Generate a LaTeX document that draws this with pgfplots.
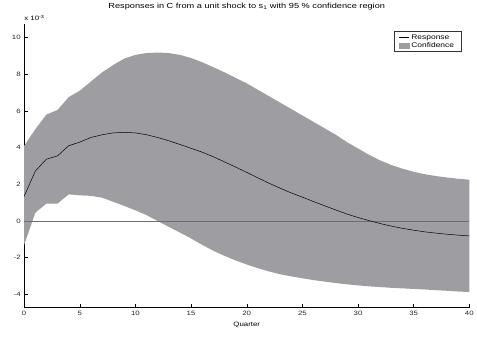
\documentclass[border=0pt]{standalone}
\usepackage{pgfplots}
\pgfplotsset{compat=1.18}
\usepackage{fontspec}
\setmainfont[FakeStretch=1.25]{Liberation Sans}
\definecolor{bandgray}{RGB}{158,157,162}
\definecolor{zerogray}{RGB}{110,110,112}
\begin{document}
\begin{tikzpicture}
\begin{axis}[
  at={(0pt,0pt)}, anchor=south west,
  scale only axis, width=447.7pt, height=285pt,
  xmin=0, xmax=40, ymin=-4.72, ymax=10.72,
  xtick={0,5,...,40}, ytick={-4,-2,0,2,4,6,8,10},
  axis x line*=bottom, axis y line*=left,
  axis line style={black, line width=0.6pt},
  tick align=inside, major tick length=3.5pt,
  tick style={black, line width=0.5pt},
  every tick label/.style={font=\fontsize{6.3}{7}\selectfont, text=black!85},
  /pgf/number format/assume math mode=true,
  xlabel={Quarter},
  xlabel style={font=\fontsize{6.3}{7}\selectfont, at={(axis description cs:0.5,0)}, anchor=base, yshift=-19pt},
  title={Responses in C from a unit shock to s\textsubscript{1} with 95 \% confidence region},
  title style={font=\fontsize{7.4}{9}\selectfont, at={(axis description cs:0.5,1)}, anchor=base, yshift=9.7pt},
  legend style={at={(rel axis cs:0.982,0.975)}, anchor=north east,
    font=\fontsize{6.8}{7.5}\selectfont, draw=black!80, line width=0.5pt,
    inner xsep=5pt, inner ysep=1pt, row sep=-2.5pt, cells={anchor=west}},
  legend cell align=left,
  legend image code/.code={\draw[#1] (2pt,0pt) -- (12pt,0pt);},
  clip mode=individual,
]
% confidence band: upper bound forward, lower bound backward
\addplot[fill=bandgray, draw=none, forget plot] coordinates {
(0,4.1) (1,5.0) (2,5.8) (3,6.05) (4,6.75) (5,7.1) (6,7.6) (7,8.1) (8,8.5) (9,8.85)
(10,9.05) (11,9.15) (12,9.18) (13,9.15) (14,9.05) (15,8.88) (16,8.65) (17,8.38) (18,8.1) (19,7.8)
(20,7.5) (21,7.15) (22,6.8) (23,6.45) (24,6.1) (25,5.75) (26,5.4) (27,5.05) (28,4.7) (29,4.3)
(30,3.95) (31,3.6) (32,3.3) (33,3.05) (34,2.85) (35,2.68) (36,2.55) (37,2.45) (38,2.37) (39,2.3) (40,2.25)
(40,-3.87) (39,-3.84) (38,-3.8) (37,-3.77) (36,-3.73) (35,-3.7) (34,-3.67) (33,-3.64) (32,-3.6) (31,-3.56)
(30,-3.51) (29,-3.45) (28,-3.38) (27,-3.3) (26,-3.22) (25,-3.12) (24,-3.02) (23,-2.9) (22,-2.75) (21,-2.57)
(20,-2.37) (19,-2.15) (18,-1.9) (17,-1.62) (16,-1.3) (15,-0.95) (14,-0.63) (13,-0.32) (12,0.0) (11,0.32)
(10,0.58) (9,0.82) (8,1.05) (7,1.27) (6,1.37) (5,1.4) (4,1.45) (3,0.95) (2,0.95) (1,0.45) (0,-1.3)
};
% zero line
\addplot[zerogray, line width=0.9pt, forget plot] coordinates {(0,0) (40,0)};
% response
\addplot[black, line width=0.5pt] coordinates {
(0,1.35) (1,2.72) (2,3.37) (3,3.55) (4,4.1) (5,4.3) (6,4.55) (7,4.7) (8,4.8) (9,4.83)
(10,4.8) (11,4.7) (12,4.55) (13,4.37) (14,4.17) (15,3.96) (16,3.75) (17,3.5) (18,3.22) (19,2.94)
(20,2.65) (21,2.35) (22,2.06) (23,1.79) (24,1.53) (25,1.3) (26,1.06) (27,0.83) (28,0.6) (29,0.38)
(30,0.19) (31,0.02) (32,-0.14) (33,-0.28) (34,-0.4) (35,-0.5) (36,-0.59) (37,-0.66) (38,-0.72) (39,-0.77) (40,-0.81)
};
\addlegendentry{Response}
\addlegendimage{legend image code/.code={\fill[bandgray] (2pt,-2.5pt) rectangle (12pt,2.5pt);}}
\addlegendentry{Confidence}
\node[anchor=base west, font=\fontsize{6.3}{7}\selectfont, inner sep=0pt] at (rel axis cs:0,1) [yshift=3.5pt] {x 10\textsuperscript{-3}};
\end{axis}
\path[use as bounding box] (-24.3pt,-29.3pt) rectangle (452.7pt,306.7pt);
\end{tikzpicture}
\end{document}
